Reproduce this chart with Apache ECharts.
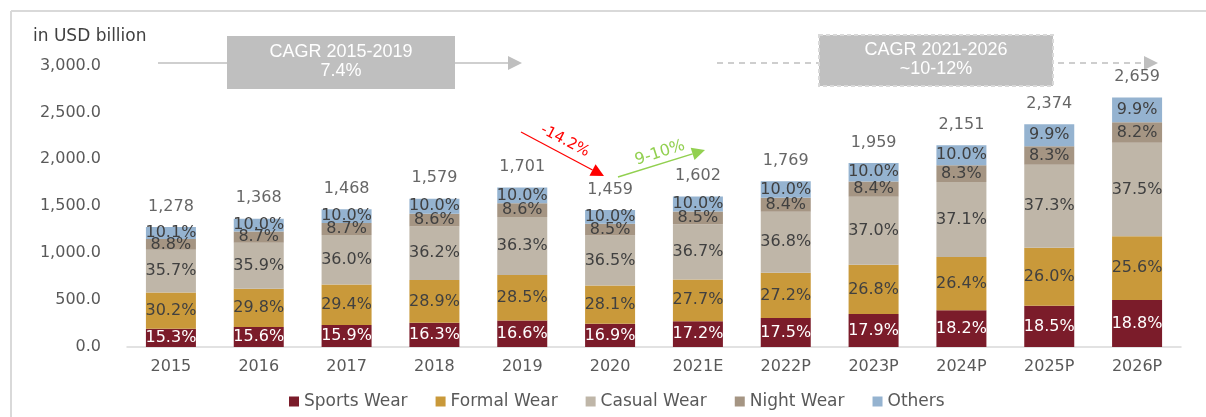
<!DOCTYPE html>
<html>
<head>
<meta charset="utf-8">
<script src="https://cdn.jsdelivr.net/npm/echarts@6/dist/echarts.min.js"></script>
<style>
  html, body { margin: 0; padding: 0; background: #fff; }
  #chart { width: 1206px; height: 417px; }
</style>
</head>
<body>
<div id="chart"></div>
<script>
// market size and segment shares
const categories = ['2015', '2016', '2017', '2018', '2019', '2020', '2021E', '2022P', '2023P', '2024P', '2025P', '2026P']
const totals = [1278, 1368, 1468, 1579, 1701, 1459, 1602, 1769, 1959, 2151, 2374, 2659]
const sportsPct = [15.3, 15.6, 15.9, 16.3, 16.6, 16.9, 17.2, 17.5, 17.9, 18.2, 18.5, 18.8]
const formalPct = [30.2, 29.8, 29.4, 28.9, 28.5, 28.1, 27.7, 27.2, 26.8, 26.4, 26.0, 25.6]
const casualPct = [35.7, 35.9, 36.0, 36.2, 36.3, 36.5, 36.7, 36.8, 37.0, 37.1, 37.3, 37.5]
const nightPct = [8.8, 8.7, 8.7, 8.6, 8.6, 8.5, 8.5, 8.4, 8.4, 8.3, 8.3, 8.2]
const othersPct = [10.1, 10.0, 10.0, 10.0, 10.0, 10.0, 10.0, 10.0, 10.0, 10.0, 9.9, 9.9]
const yTicks = [0, 500, 1000, 1500, 2000, 2500, 3000]

const segments = [
  { name: 'Sports Wear', pct: sportsPct, color: '#7b1c2a', text: '#ffffff' },
  { name: 'Formal Wear', pct: formalPct, color: '#c9993a', text: '#404040' },
  { name: 'Casual Wear', pct: casualPct, color: '#bfb6a8', text: '#404040' },
  { name: 'Night Wear', pct: nightPct, color: '#a59583', text: '#404040' },
  { name: 'Others', pct: othersPct, color: '#95b3d0', text: '#404040' }
]

const chart = echarts.init(document.getElementById('chart'))

// line + triangle head, used for the annotation arrows
const arrow = (x1, y1, x2, y2, color, width, head, dash) => {
  const dx = x2 - x1, dy = y2 - y1
  const len = Math.sqrt(dx * dx + dy * dy)
  const ux = dx / len, uy = dy / len
  const bx = x2 - ux * head, by = y2 - uy * head
  const hw = head * 0.5
  return [
    {
      type: 'line',
      shape: { x1, y1, x2: bx, y2: by },
      style: { stroke: color, lineWidth: width, lineDash: dash || null },
      silent: true
    },
    {
      type: 'polygon',
      shape: { points: [[x2, y2], [bx - uy * hw, by + ux * hw], [bx + uy * hw, by - ux * hw]] },
      style: { fill: color },
      silent: true
    }
  ]
}

const label = (x, y, text, color, font, rotation, align) => ({
  type: 'text',
  x, y,
  rotation: rotation || 0,
  style: {
    text, fill: color, font,
    align: align || 'center', verticalAlign: 'middle',
    textAlign: align || 'center', textVerticalAlign: 'middle'
  },
  silent: true
})

const boxFont = '18px "Liberation Sans"'

const graphics = [
  // frame
  { type: 'line', shape: { x1: 11, y1: 11, x2: 1206, y2: 11 }, style: { stroke: '#d9d9d9', lineWidth: 2 } },
  { type: 'line', shape: { x1: 11, y1: 11, x2: 11, y2: 417 }, style: { stroke: '#d9d9d9', lineWidth: 2 } },
  label(33, 37, 'in USD billion', '#404040', '17px "DejaVu Sans"', 0, 'left'),
  // CAGR 2015-2019
  ...arrow(158, 63, 522, 63, '#bfbfbf', 1.5, 14),
  { type: 'rect', shape: { x: 227, y: 36, width: 228, height: 53 }, style: { fill: '#bfbfbf' } },
  label(341, 52, 'CAGR 2015-2019', '#ffffff', boxFont),
  label(341, 71, '7.4%', '#ffffff', boxFont),
  // CAGR 2021-2026
  ...arrow(717, 63, 1158, 63, '#bfbfbf', 1.5, 14, [6, 5]),
  { type: 'rect', shape: { x: 819, y: 35, width: 234, height: 51 }, style: { fill: '#c0c0c0', stroke: '#d9d9d9', lineWidth: 2, lineDash: [4, 3] } },
  label(936, 50, 'CAGR 2021-2026', '#ffffff', boxFont),
  label(936, 69, '~10-12%', '#ffffff', boxFont),
  // covid dip and recovery
  ...arrow(521, 132, 604, 176, '#ff0000', 1.2, 13),
  label(565, 141, '-14.2%', '#ff0000', '15px "DejaVu Sans"', -0.48),
  ...arrow(618, 177, 705, 150, '#92d050', 1.5, 13),
  label(660, 153, '9-10%', '#92d050', '16px "DejaVu Sans"', 0.31)
]

chart.setOption({
  backgroundColor: '#ffffff',
  animation: false,
  grid: { left: 127, right: 25, top: 65.5, bottom: 70 },
  legend: {
    data: segments.map(s => s.name),
    bottom: 2,
    left: 284,
    icon: 'rect',
    itemWidth: 10,
    itemHeight: 10,
    itemGap: 28,
    textStyle: { color: '#595959', fontSize: 17, fontFamily: 'DejaVu Sans' }
  },
  xAxis: {
    type: 'category',
    data: categories,
    axisTick: { show: false },
    axisLine: { lineStyle: { color: '#d9d9d9', width: 1.5 } },
    axisLabel: { color: '#595959', fontSize: 16, fontFamily: 'DejaVu Sans', margin: 12 }
  },
  yAxis: {
    type: 'value',
    min: yTicks[0],
    max: yTicks[yTicks.length - 1],
    interval: yTicks[1] - yTicks[0],
    splitLine: { show: false },
    axisLine: { show: false },
    axisTick: { show: false },
    axisLabel: {
      color: '#595959', fontSize: 16, fontFamily: 'DejaVu Sans', margin: 26,
      formatter: v => v.toLocaleString('en-US', { minimumFractionDigits: 1, maximumFractionDigits: 1 })
    }
  },
  series: [
    ...segments.map(s => ({
      name: s.name,
      type: 'bar',
      stack: 'total',
      barWidth: 50,
      itemStyle: { color: s.color },
      label: {
        show: true,
        position: 'inside',
        color: s.text,
        fontSize: 16,
        fontFamily: 'DejaVu Sans',
        formatter: p => s.pct[p.dataIndex].toFixed(1) + '%'
      },
      data: totals.map((t, i) => t * s.pct[i] / 100)
    })),
    {
      name: 'Total',
      type: 'scatter',
      symbolSize: 1,
      itemStyle: { color: 'rgba(0,0,0,0)' },
      label: {
        show: true,
        position: 'top',
        distance: 12,
        color: '#404040',
        fontSize: 16,
        fontFamily: 'DejaVu Sans',
        formatter: p => totals[p.dataIndex].toLocaleString('en-US')
      },
      data: totals
    }
  ],
  graphic: { elements: graphics }
})

window.addEventListener('resize', () => chart.resize())
</script>
</body>
</html>
